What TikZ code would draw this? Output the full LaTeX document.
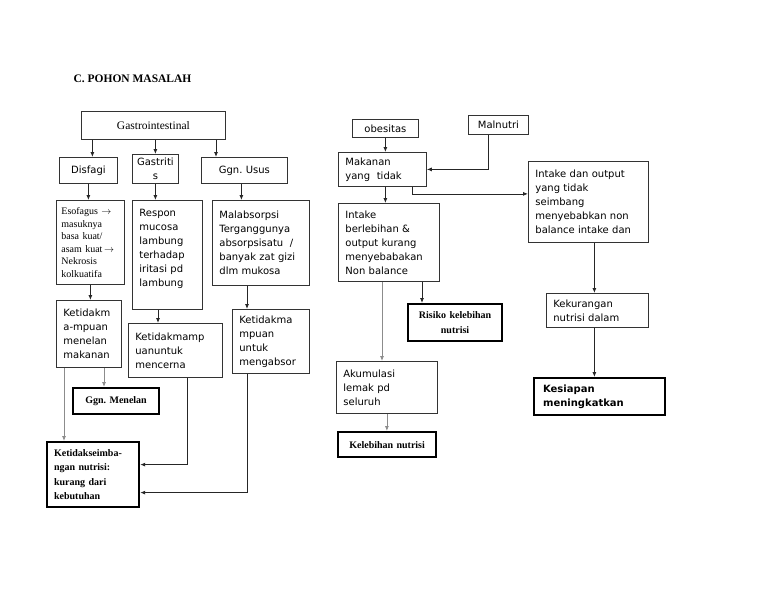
\documentclass[tikz,border=0pt]{standalone}
\usepackage{fontspec}
\setmainfont{Liberation Serif}
\newfontfamily\dejavu{DejaVu Sans}
\usetikzlibrary{arrows.meta}

\begin{document}
\frenchspacing
\begin{tikzpicture}[x=1pt,y=-1pt,>={Latex[length=5pt,width=4pt]},
box/.style={draw=black!80,line width=0.8pt,anchor=north west,inner xsep=7pt,inner ysep=0pt,
align=left,font=\dejavu\fontsize{10}{14}\selectfont},
cbox/.style={box,align=center,inner xsep=3pt},
serifbox/.style={box,inner xsep=5pt,font=\fontsize{10}{12.5}\selectfont},
endbox/.style={box,draw=black,line width=2.2pt,font=\bfseries\fontsize{10}{14.5}\selectfont},
link/.style={->,line width=0.8pt,black!85},
glink/.style={link,black!45}]
\useasboundingbox (0,0) rectangle (768,594);
\node[anchor=base west,font=\bfseries\fontsize{11.5}{14}\selectfont] (judul) at (70,82) {C. POHON MASALAH};
% left tree
\node[cbox,font=\fontsize{11.5}{13}\selectfont,text width=138pt,minimum height=28pt] (gastro) at (81,111) {Gastrointestinal};
\node[cbox,text width=52pt,minimum height=26pt] (disfagi) at (59,157) {Disfagi};
\node[cbox,text width=40pt,minimum height=29pt] (gastritis) at (132,154) {Gastriti\\s};
\node[cbox,text width=80pt,minimum height=26pt] (ggnusus) at (201,157) {Ggn. Usus};
\node[serifbox,text width=58pt,minimum height=84pt] (esofagus) at (56,200)
  {Esofagus $\rightarrow$\\masuknya\\basa kuat/\\asam kuat$\,\rightarrow$\\Nekrosis\\kolkuatifa};
\node[box,text width=56pt,minimum height=109pt] (respon) at (132,200)
  {Respon\\mucosa\\lambung\\terhadap\\iritasi pd\\lambung\\~};
\node[box,text width=83pt,minimum height=85pt] (malabs) at (212,200)
  {Malabsorpsi\\Terganggunya\\absorpsisatu\ \ /\\banyak zat gizi\\dlm mukosa};
\node[box,text width=51pt,minimum height=67pt] (ketmenelan) at (56,300) {Ketidakm\\a-mpuan\\menelan\\makanan};
\node[box,text width=80pt,minimum height=54pt] (ketcerna) at (128,323) {Ketidakmamp\\uanuntuk\\mencerna};
\node[box,text width=63pt,minimum height=64pt] (ketabsor) at (232,309) {Ketidakma\\mpuan\\untuk\\mengabsor};
\node[endbox,align=center,inner xsep=3pt,text width=80pt,minimum height=26pt] (ggnmenelan) at (72,387) {Ggn. Menelan};
\node[endbox,text width=78pt,minimum height=65pt] (ketseimbang) at (46,441)
  {Ketidakseimba-\\ngan nutrisi:\\kurang dari\\kebutuhan};
% right tree
\node[cbox,text width=60pt,minimum height=18pt] (obesitas) at (352,119) {obesitas};
\node[cbox,text width=54pt,minimum height=19pt] (malnutri) at (468,115) {Malnutri};
\node[box,text width=74pt,minimum height=34pt] (makanan) at (338,152) {Makanan\\yang\ \ tidak};
\node[box,text width=87pt,minimum height=78pt] (intakeber) at (338,203)
  {Intake\\berlebihan \&\\output kurang\\menyebabakan\\Non balance};
\node[box,text width=106pt,minimum height=81pt] (intakeout) at (528,161)
  {Intake dan output\\yang tidak\\seimbang\\menyebabkan non\\balance intake dan};
\node[box,text width=88pt,minimum height=34pt] (kekurangan) at (546,293) {Kekurangan\\nutrisi dalam};
\node[endbox,font=\dejavu\bfseries\fontsize{10}{14}\selectfont,inner xsep=9pt,text width=113pt,minimum height=37pt] (kesiapan) at (533,377)
  {Kesiapan\\meningkatkan};
\node[endbox,align=center,inner xsep=3pt,text width=88pt,minimum height=37pt] (risiko) at (407,303) {Risiko kelebihan\\nutrisi};
\node[box,text width=87pt,minimum height=52pt] (akumulasi) at (336,361) {Akumulasi\\lemak pd\\seluruh};
\node[endbox,align=center,inner xsep=3pt,text width=92pt,minimum height=25pt] (kelebihan) at (337,431) {Kelebihan nutrisi};
% connectors left
\draw[link] ([xshift=4pt]disfagi.north |- gastro.south) -- ([xshift=4pt]disfagi.north);
\draw[link] (gastritis.north |- gastro.south) -- (gastritis.north);
\draw[link] ([xshift=15pt]ggnusus.north west |- gastro.south) -- ([xshift=15pt]ggnusus.north west);
\draw[link] (disfagi.south) -- (disfagi.south |- esofagus.north);
\draw[link] (gastritis.south) -- (gastritis.south |- respon.north);
\draw[link] ([xshift=-3pt]ggnusus.south) -- ([xshift=-3pt]ggnusus.south |- malabs.north);
\draw[link] (esofagus.south) -- (esofagus.south |- ketmenelan.north);
\draw[link] ([xshift=30pt]ketcerna.north west |- respon.south) -- ([xshift=30pt]ketcerna.north west);
\draw[link] ([xshift=15pt]ketabsor.north west |- malabs.south) -- ([xshift=15pt]ketabsor.north west);
\draw[glink] ([xshift=32pt]ggnmenelan.north west |- ketmenelan.south) -- ([xshift=32pt]ggnmenelan.north west);
\draw[glink] ([xshift=8pt]ketmenelan.south west) -- ([xshift=8pt]ketmenelan.south west |- ketseimbang.north);
\draw[link] ([xshift=59pt]ketcerna.south west) |- ([yshift=10pt]ketseimbang.east);
\draw[link] ([xshift=15pt]ketabsor.south west) |- ([yshift=-18pt]ketseimbang.east);
% connectors right
\draw[link] (obesitas.south) -- (obesitas.south |- makanan.north);
\draw[link] ([xshift=-10pt]malnutri.south) |- (makanan.east);
\draw[link] (obesitas.south |- makanan.south) -- (obesitas.south |- intakeber.north);
\draw[link] ([xshift=-14pt]makanan.south east) |- ([yshift=8pt]intakeout.west);
\draw[link] ([xshift=15pt]risiko.north west |- intakeber.south) -- ([xshift=15pt]risiko.north west);
\draw[glink] ([xshift=44pt]intakeber.south west) -- ([xshift=44pt]intakeber.south west |- akumulasi.north);
\draw[glink] (akumulasi.south) -- (akumulasi.south |- kelebihan.north);
\draw[link] ([xshift=-3pt]kekurangan.north |- intakeout.south) -- ([xshift=-3pt]kekurangan.north);
\draw[link] ([xshift=-3pt]kekurangan.south) -- ([xshift=-3pt]kekurangan.south |- kesiapan.north);
\end{tikzpicture}
\end{document}
